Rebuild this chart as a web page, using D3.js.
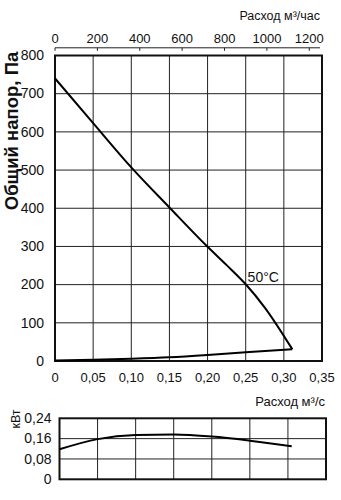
<!DOCTYPE html>
<html><head><meta charset="utf-8">
<script src="https://cdn.jsdelivr.net/npm/d3@7"></script>
<style>
body{margin:0;background:#fff;}
svg{display:block;}
text{font-family:"Liberation Sans",Arial,sans-serif;fill:#111;}
.narrow{font-family:"Liberation Sans Narrow","Liberation Sans",Arial,sans-serif;}
</style></head>
<body>
<svg id="c" width="341" height="500"></svg>
<script>
// ---- data ----
const flowTicks = [0, 0.05, 0.10, 0.15, 0.20, 0.25, 0.30, 0.35];
const flowTickLabels = ["0", "0,05", "0,10", "0,15", "0,20", "0,25", "0,30", "0,35"];
const hourTicks = [0, 200, 400, 600, 800, 1000, 1200];
const pressTicks = [0, 100, 200, 300, 400, 500, 600, 700, 800];
const powerTicks = [0, 0.08, 0.16, 0.24];
const powerTickLabels = ["0", "0,08", "0,16", "0,24"];

const pressFlow = [0, 0.05, 0.10, 0.15, 0.20, 0.225, 0.25, 0.275, 0.311];
const pressure  = [740, 623, 507, 402, 299, 251, 201, 140, 31];
const lowFlow   = [0, 0.05, 0.10, 0.15, 0.20, 0.25, 0.311];
const lowValues = [1, 3, 6, 10, 16, 23, 31];
const powerFlow = [0, 0.05, 0.10, 0.15, 0.20, 0.25, 0.305];
const power     = [0.118, 0.158, 0.174, 0.176, 0.168, 0.152, 0.130];

const svg = d3.select("#c");

// ---- main chart ----
const x = d3.scaleLinear().domain([0, 0.35]).range([55, 322]);
const xh = d3.scaleLinear().domain([0, 0.35 * 3600]).range([55, 322]);
const y = d3.scaleLinear().domain([0, 800]).range([361, 55.5]);

const grid = svg.append("g").attr("stroke", "#222").attr("stroke-width", 1);
grid.selectAll(".vx").data(flowTicks.slice(1, -1)).join("line")
  .attr("x1", d => x(d)).attr("x2", d => x(d)).attr("y1", y(800)).attr("y2", y(0));
grid.selectAll(".hy").data(pressTicks.slice(1, -1)).join("line")
  .attr("x1", x(0)).attr("x2", x(0.35)).attr("y1", d => y(d)).attr("y2", d => y(d));

svg.append("rect").attr("x", x(0)).attr("y", y(800)).attr("width", x(0.35) - x(0)).attr("height", y(0) - y(800))
  .attr("fill", "none").attr("stroke", "#111").attr("stroke-width", 2);

const line = d3.line().x(d => x(d[0])).y(d => y(d[1])).curve(d3.curveMonotoneX);
svg.append("path").datum(d3.zip(pressFlow, pressure)).attr("d", line)
  .attr("fill", "none").attr("stroke", "#000").attr("stroke-width", 2).attr("stroke-linejoin", "miter");
svg.append("path").datum(d3.zip(lowFlow, lowValues)).attr("d", line)
  .attr("fill", "none").attr("stroke", "#000").attr("stroke-width", 2);

svg.append("text").attr("x", x(0.2525)).attr("y", 282).attr("font-size", 14).text("50°C");

// bottom x labels
svg.append("g").selectAll("text").data(flowTicks).join("text")
  .attr("x", d => x(d)).attr("y", 382).attr("text-anchor", "middle").attr("font-size", 13)
  .text((d, i) => flowTickLabels[i]);

// y labels
svg.append("g").selectAll("text").data(pressTicks).join("text").attr("class", "narrow")
  .attr("x", 44).attr("y", d => y(d) + 4.8).attr("text-anchor", "end").attr("font-size", 14)
  .text(d => d);

// top axis
const topAxis = svg.append("g");
topAxis.append("line").attr("x1", x(0)).attr("x2", x(0.35) - 2).attr("y1", 47.8).attr("y2", 47.8)
  .attr("stroke", "#222").attr("stroke-width", 1);
topAxis.selectAll(".t").data(hourTicks).join("line")
  .attr("x1", d => xh(d)).attr("x2", d => xh(d)).attr("y1", 47.8).attr("y2", 50.8)
  .attr("stroke", "#222").attr("stroke-width", 1);
topAxis.selectAll("text").data(hourTicks).join("text")
  .attr("x", d => xh(d)).attr("y", 43).attr("text-anchor", "middle").attr("font-size", 13)
  .text(d => d);
svg.append("text").attr("x", 320).attr("y", 20).attr("text-anchor", "end").attr("font-size", 12.5)
  .text("Расход м³/час");

svg.append("text").attr("transform", "translate(18,131) rotate(-90)").attr("text-anchor", "middle")
  .attr("font-size", 18.5).attr("font-weight", "bold").text("Общий напор, Па");

svg.append("text").attr("x", 325).attr("y", 406).attr("text-anchor", "end").attr("font-size", 13)
  .text("Расход м³/с");

// ---- power chart ----
const xl = d3.scaleLinear().domain([0, 0.35]).range([59.5, 326]);
const yl = d3.scaleLinear().domain([0, 0.24]).range([479.3, 418.3]);

const grid2 = svg.append("g").attr("stroke", "#222").attr("stroke-width", 1);
grid2.selectAll(".vx").data(flowTicks.slice(1, -1)).join("line")
  .attr("x1", d => xl(d)).attr("x2", d => xl(d)).attr("y1", yl(0.24)).attr("y2", yl(0));
grid2.selectAll(".hy").data(powerTicks.slice(1, -1)).join("line")
  .attr("x1", xl(0)).attr("x2", xl(0.35)).attr("y1", d => yl(d)).attr("y2", d => yl(d));
svg.append("rect").attr("x", xl(0)).attr("y", yl(0.24)).attr("width", xl(0.35) - xl(0)).attr("height", yl(0) - yl(0.24))
  .attr("fill", "none").attr("stroke", "#111").attr("stroke-width", 2);

svg.append("path").datum(d3.zip(powerFlow, power))
  .attr("d", d3.line().x(d => xl(d[0])).y(d => yl(d[1])).curve(d3.curveMonotoneX))
  .attr("fill", "none").attr("stroke", "#000").attr("stroke-width", 2);

svg.append("g").selectAll("text").data(powerTicks).join("text").attr("class", "narrow")
  .attr("x", 51.5).attr("y", d => yl(d) + 4.8).attr("text-anchor", "end").attr("font-size", 14)
  .text((d, i) => powerTickLabels[i]);

svg.append("text").attr("class", "narrow").attr("transform", "translate(19.5,419) rotate(-90)").attr("text-anchor", "middle")
  .attr("font-size", 12.5).text("кВт");
</script>
</body></html>
